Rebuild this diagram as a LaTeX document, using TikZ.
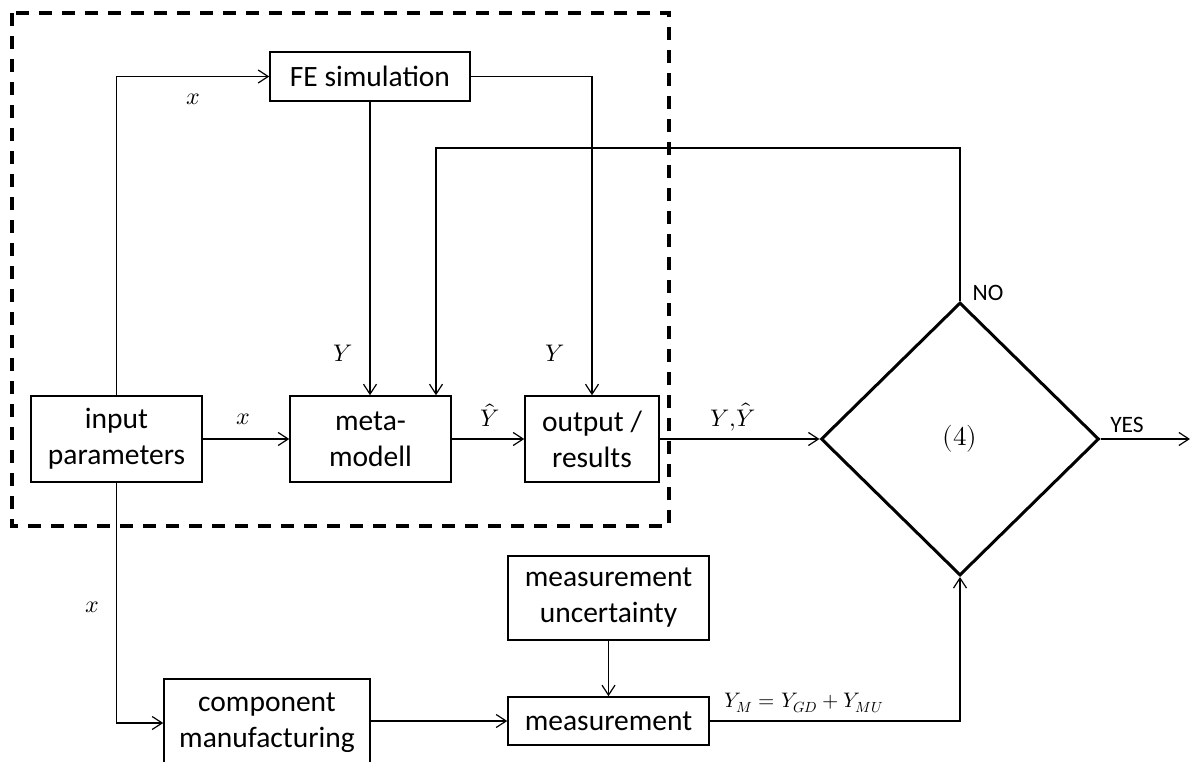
\documentclass[tikz,border=0pt]{standalone}
\usepackage{unicode-math}
\setmainfont{Carlito}
\setmathfont{latinmodern-math.otf}
\usetikzlibrary{arrows.meta,shapes.geometric}
\tikzset{
  blk/.style={draw, line width=1.5pt, rectangle, inner sep=0pt, align=center,
    font=\fontsize{29.5}{36}\selectfont},
  arr/.style={draw, line width=1.2pt, -{Straight Barb[length=10pt,width=13pt,line width=1.2pt]}},
  mlab/.style={inner sep=0pt, font=\fontsize{24}{28}\selectfont},
  tlab/.style={inner sep=0pt, font=\fontsize{23.5}{28}\selectfont},
  dbox/.style={draw, line width=3.3pt, dash pattern=on 13pt off 10pt},
}
\begin{document}
\begin{tikzpicture}[x=1pt,y=-1pt]
\useasboundingbox (0,0) rectangle (1192,762);
% dashed frame
\draw[dbox] (12,13) rectangle (669,526);
% blocks
\node[blk, minimum width=171pt, minimum height=86pt] (in) at (116.5,439) {input\\parameters};
\node[blk, minimum width=200pt, minimum height=49pt] (fe) at (370,76.5) {FE simulation};
\node[blk, minimum width=161pt, minimum height=86pt] (meta) at (370.5,439) {meta-\\modell};
\node[blk, minimum width=134pt, minimum height=86pt] (out) at (592,439) {output /\\results};
\node[blk, minimum width=201pt, minimum height=84pt] (mu) at (608.5,598) {measurement\\uncertainty};
\node[blk, minimum width=201pt, minimum height=48pt] (meas) at (608.5,721) {measurement};
\node[blk, minimum width=206pt, minimum height=88pt] (comp) at (267,723) {component\\manufacturing};
\node[diamond, draw, line width=3pt, inner sep=0pt, minimum width=278pt, minimum height=273pt,
  font=\fontsize{27}{30}\selectfont] (dia) at (960,439) {$(4)$};
% coordinates
\coordinate (fb) at (436,148);
\coordinate (yes) at (1190,439);
% connectors
\draw[arr] (in.north) |- (fe.west);
\draw[arr] (fe.south) -- (fe.south |- meta.north);
\draw[arr] (fe.east) -| (out.north);
\draw[arr] (dia.north) |- (fb) -- (fb |- meta.north);
\draw[arr] (in.east) -- (meta.west);
\draw[arr] (meta.east) -- (out.west);
\draw[arr] (out.east) -- (dia.west);
\draw[arr] (dia.east) -- (yes);
\draw[arr] (in.south) |- (comp.west);
\draw[arr] (meas.west -| comp.east) -- (meas.west);
\draw[arr] (mu.south) -- (meas.north);
\draw[arr] (meas.east) -| (dia.south);
% labels
\node[mlab] (lx1) at (193,99) {$x$};
\node[mlab] (lx2) at (243,419) {$x$};
\node[mlab] (lx3) at (92,607) {$x$};
\node[mlab] (ly1) at (343,353) {$Y$};
\node[mlab] (ly2) at (555,353) {$Y$};
\node[mlab] (lyh) at (490,415) {$\hat{Y}$};
\node[mlab] (lyy) at (733,417) {$Y{,}\hat{Y}$};
\node[mlab, font=\fontsize{21}{25}\selectfont] (leq) at (804,703) {$Y_M = Y_{GD} + Y_{MU}$};
\node[tlab] (lno) at (988,293) {NO};
\node[tlab] (lyes) at (1127,425) {YES};
\end{tikzpicture}
\end{document}
